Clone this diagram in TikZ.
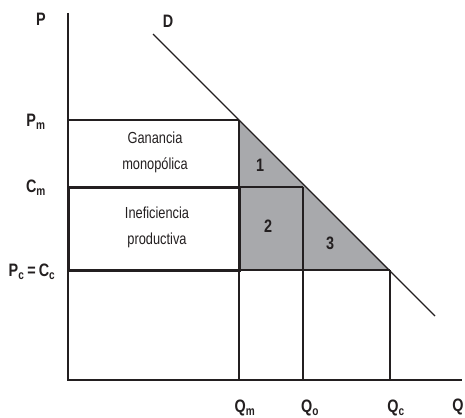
\documentclass[tikz,border=0pt]{standalone}
\usepackage{fontspec}
\setmainfont[FakeStretch=0.8]{Liberation Sans}
\definecolor{areagray}{HTML}{A8A9AC}
\definecolor{ink}{HTML}{231F20}
\begin{document}
\begin{tikzpicture}[x=1pt,y=-1pt,
  thinline/.style={draw=ink,line width=1.3pt},
  axisline/.style={draw=ink,line width=2.6pt},
  boxline/.style={draw=ink,line width=3pt},
  lbl/.style={font=\fontsize{18}{20}\selectfont\bfseries,text=ink,inner sep=0pt},
  txt/.style={font=\fontsize{16}{26}\selectfont,text=ink,align=center,inner sep=0pt},
  num/.style={font=\fontsize{18}{20}\selectfont\bfseries,text=ink,inner sep=0pt}]
\useasboundingbox (0,0) rectangle (465,417);
% key coordinates
\coordinate (O) at (68,380);
\coordinate (Ytop) at (68,13);
\coordinate (Xend) at (462,380);
\coordinate (Pm0) at (68,120);
\coordinate (Cm0) at (68,187);
\coordinate (Pc0) at (68,270);
\coordinate (A) at (239,120);
\coordinate (B) at (303,187);
\coordinate (C) at (390,270);
\coordinate (Bm) at (239,187);
\coordinate (Cmm) at (239,270);
\coordinate (Qm0) at (239,380);
\coordinate (Qo0) at (303,380);
\coordinate (Qc0) at (390,380);
\coordinate (D1) at (153,34);
\coordinate (D2) at (435,316);
% shaded area
\fill[areagray] (A) -- (C) -- (Cmm) -- cycle;
% grid lines
\draw[thinline] (Pm0) -- (A);
\draw[thinline] (A) -- (Qm0);
\draw[thinline] (Bm) -- (B);
\draw[thinline] (B) -- (Qo0);
\draw[thinline] (Cmm) -- (C);
\draw[thinline] (C) -- (Qc0);
% demand
\draw[thinline] (D1) -- (D2);
% thick box
\draw[boxline] (Cm0) rectangle (Cmm);
% axes
\draw[axisline] (Ytop) -- (O) -- (Xend);
% labels
\node[lbl] (P) at (41,19) {P};
\node[lbl] (D) at (168,21) {D};
\node[lbl] (Pm) at (36,122) {P\textsubscript{m}};
\node[lbl] (Cm) at (36,188) {C\textsubscript{m}};
\node[lbl] (PcCc) at (32,272) {P\textsubscript{c}\,=\,C\textsubscript{c}};
\node[lbl] (Qm) at (245,408) {Q\textsubscript{m}};
\node[lbl] (Qo) at (310,408) {Q\textsubscript{o}};
\node[lbl] (Qc) at (396,408) {Q\textsubscript{c}};
\node[lbl] (Q) at (458,407) {Q};
\node[txt] (gan) at (155,152) {Ganancia\\monopólica};
\node[txt] (inef) at (157,227) {Ineficiencia\\productiva};
\node[num] (n1) at (260,165) {1};
\node[num] (n2) at (268,226) {2};
\node[num] (n3) at (330,243) {3};
\end{tikzpicture}
\end{document}
